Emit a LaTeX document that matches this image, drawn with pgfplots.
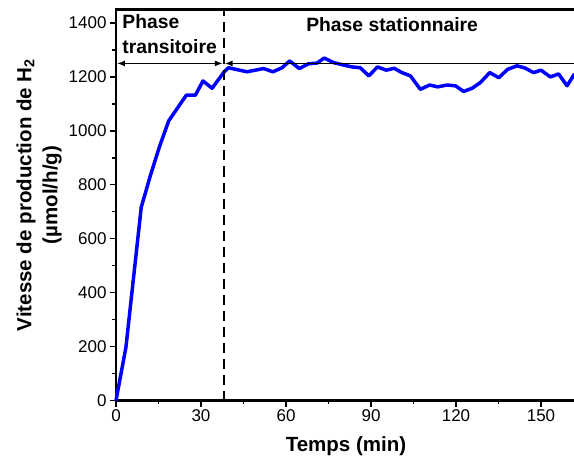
\documentclass[border=0pt]{standalone}
\usepackage{pgfplots}
\pgfplotsset{compat=1.18}
\usepackage{fontspec}
\setmainfont{Liberation Sans}
\usetikzlibrary{arrows.meta}
\definecolor{lineblue}{RGB}{0,0,255}
\begin{document}
\begin{tikzpicture}
\begin{axis}[
  scale only axis, width=460pt, height=391pt,
  xmin=0, xmax=162.35, ymin=0, ymax=1450,
  xtick={0,30,...,150}, ytick={0,200,...,1400},
  minor x tick num=1, minor y tick num=1,
  tick align=outside,
  major tick length=6pt, minor tick length=3.5pt,
  xtick pos=bottom, ytick pos=left,
  axis line style={line width=2.2pt},
  every tick/.style={black, line width=1.4pt},
  /pgf/number format/assume math mode=true,
  /pgf/number format/1000 sep={},
  tick label style={font=\fontsize{17}{20}\selectfont},
  xlabel={\textbf{Temps (min)}},
  xlabel style={font=\fontsize{20.5}{24}\selectfont, at={(axis description cs:0.5,0)}, anchor=base, yshift=-51pt},
  ylabel={\textbf{Vitesse de production de H\textsubscript{2}}\\\textbf{(µmol/h/g)}},
  ylabel style={font=\fontsize{20.5}{26}\selectfont, align=center, at={(axis description cs:0,0.5)}, anchor=center, xshift=10pt, yshift=77pt},
  clip=false,
]
\addplot[lineblue, line width=3.5pt, line join=round] coordinates {
(0,0) (3.5,197) (8.9,716) (12.1,833) (15.3,940) (18.6,1037) (24.8,1132) (28,1132) (30.7,1185) (33.9,1158) (38.2,1219) (39.7,1234) (46.2,1219) (52.1,1231) (55.4,1219) (58.6,1234) (61.3,1259) (64.7,1231) (68,1249) (70.9,1251) (73.5,1270) (76.8,1253) (80.3,1244) (83.3,1237) (86.2,1234) (89.2,1204) (92.3,1237) (95.4,1225) (98.2,1232) (100.9,1216) (103.9,1204) (107.4,1154) (110.7,1170) (113.5,1163) (116.8,1170) (119.8,1167) (122.7,1146) (125.7,1158) (128.6,1179) (131.9,1216) (135.1,1197) (138.2,1228) (141.5,1241) (144.1,1234) (147.4,1216) (150,1225) (153.3,1200) (156.2,1211) (159.2,1167) (161.8,1211)
};
\draw[black, line width=1.8pt, dash pattern=on 10pt off 6pt] (axis cs:38,0) -- (axis cs:38,1450);
\draw[black, line width=1.8pt, {Latex[length=8pt,width=6pt]}-{Latex[length=8pt,width=6pt]}] (axis cs:0.3,1250) -- (axis cs:37.7,1250);
\draw[black, line width=1.8pt, {Latex[length=8pt,width=6pt]}-] (axis cs:38.3,1250) -- (axis cs:162.35,1250);
\node[anchor=base west, font=\fontsize{19.3}{23}\selectfont\bfseries, inner sep=0pt] at (axis cs:2.2,1381) {Phase};
\node[anchor=base west, font=\fontsize{19.3}{23}\selectfont\bfseries, inner sep=0pt] at (axis cs:2.2,1288) {transitoire};
\node[anchor=base west, font=\fontsize{19.3}{23}\selectfont\bfseries, inner sep=0pt] at (axis cs:67.1,1367) {Phase stationnaire};
\end{axis}
\pgfresetboundingbox
\path ([xshift=-116pt,yshift=-60pt]current axis.south west) rectangle ([xshift=-2pt,yshift=9.5pt]current axis.north east);
\end{tikzpicture}
\end{document}
